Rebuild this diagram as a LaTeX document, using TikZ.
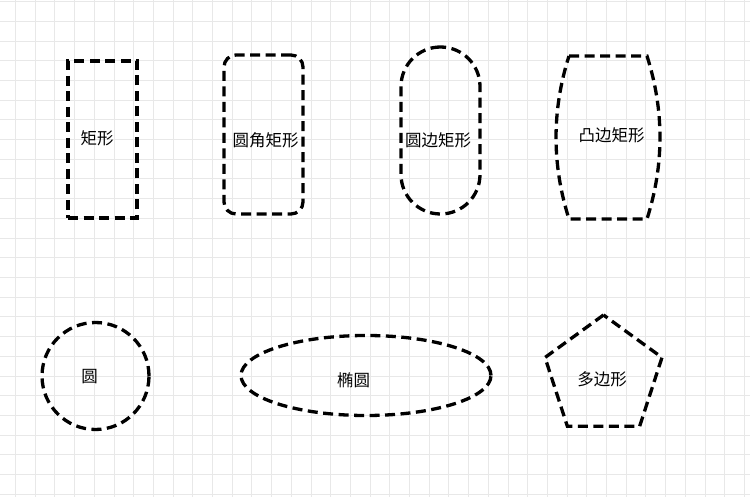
\documentclass[tikz,border=0pt]{standalone}
\usepackage{fontspec}
\newfontfamily\cjk{Noto Sans CJK SC}
\usetikzlibrary{shapes.geometric}
\begin{document}
\begin{tikzpicture}[x=1pt, y=-1pt, font=\cjk\fontsize{16.5}{19}\selectfont,
        shapebox/.style={draw, line width=3.3pt, dash pattern=on 10pt off 5.5pt, inner sep=0pt, outer sep=0pt, line join=miter},
        gridline/.style={draw=black!9, line width=0.8pt}]
    \useasboundingbox (0,0) rectangle (750,497);
    \fill[white] (0,0) rectangle (750,497);
    % background grid
    \foreach \i in {0,...,37} {
        \draw[gridline] ({15.4+19.7*\i},0) -- ({15.4+19.7*\i},497);
    }
    \foreach \j in {0,...,25} {
        \draw[gridline] (0,{1.6+19.7*\j}) -- (750,{1.6+19.7*\j});
    }
    % top row
    \node[shapebox, minimum width=69pt, minimum height=157pt] (rect) at (102.5,139.5) {};
    \node (rect-text) at (97,138) {矩形};
    \node[shapebox, rounded corners=12pt, minimum width=79pt, minimum height=159pt] (roundrect) at (263.5,134.5) {};
    \node (roundrect-text) at (265.5,140) {圆角矩形};
    \node[shapebox, rounded corners=39.5pt, minimum width=79pt, minimum height=167pt] (stadium) at (440.5,130.5) {};
    \node (stadium-text) at (438,140) {圆边矩形};
    \draw[shapebox] (569,56) -- (647,56) .. controls (664.3,110.3) and (664.3,164.7) .. (647,219)
        -- (569,219) .. controls (551.7,164.7) and (551.7,110.3) .. (569,56) -- cycle;
    \node (convex-text) at (611.5,135) {凸边矩形};
    % bottom row
    \node[shapebox, circle, minimum size=107pt] (circ) at (95.5,376) {};
    \node (circ-text) at (89.5,377) {圆};
    \node[shapebox, ellipse, minimum width=250pt, minimum height=80pt] (ell) at (366,375.5) {};
    \node (ell-text) at (353.5,380.5) {椭圆};
    \node[shapebox, regular polygon, regular polygon sides=5, minimum size=123pt] (poly) at (603.5,376.5) {};
    \node (poly-text) at (602,379) {多边形};
\end{tikzpicture}
\end{document}
